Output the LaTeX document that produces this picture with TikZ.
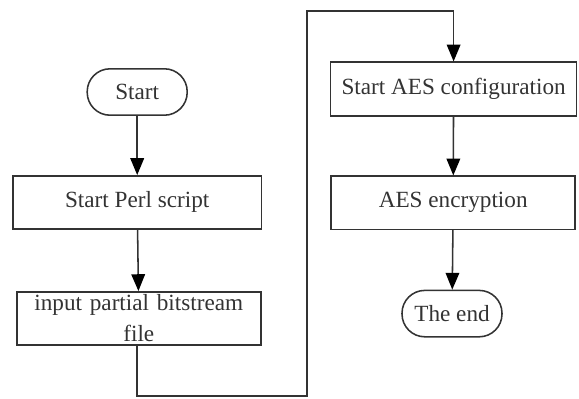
\documentclass[tikz,border=0pt]{standalone}
\usepackage{fontspec}
\setmainfont{Liberation Serif}
\usepackage{xcolor}
\usetikzlibrary{arrows.meta}
\definecolor{ink}{HTML}{333333}
\tikzset{
  lab/.style={text=ink, font=\fontsize{16.5}{21}\selectfont, inner sep=0pt, align=center},
  procBox/.style={lab, draw=ink, line width=1.1pt, minimum width=6.15cm, minimum height=1.33cm},
  termBox/.style={lab, draw=ink, line width=1.1pt, rounded corners=0.57cm, minimum width=2.5cm, minimum height=1.16cm},
  flow/.style={draw=ink, line width=1.1pt, -{Triangle[length=0.42cm,width=0.34cm,color=black]}}
}

\begin{document}
\begin{tikzpicture}
\useasboundingbox (0,0) rectangle (14.475,9.95);
% left column
\node[termBox] (start) at (3.43,7.65) {Start};
\node[procBox, minimum width=6.22cm] (perl) at (3.43,4.89) {Start Perl script};
\node[procBox, minimum width=6.1cm, text width=6cm] (input) at (3.47,1.99) {input partial bitstream\\[1pt]file};
\draw[flow] (start) -- (perl);
\draw[flow] (perl) -- (input);

% right column
\node[procBox, minimum height=1.35cm] (config) at (11.34,7.72) {Start AES configuration};
\node[procBox, minimum width=6.1cm] (encrypt) at (11.33,4.88) {AES encryption};
\node[termBox] (theend) at (11.3,2.11) {The end};
\draw[flow] (config) -- (encrypt);
\draw[flow] (encrypt) -- (theend);

% link between the columns
\coordinate (low) at (7.675,0.05);
\coordinate (high) at (7.675,9.67);
\draw[flow] (input.south -| start) |- (low) -- (high) -| (config.north);
\end{tikzpicture}
\end{document}
